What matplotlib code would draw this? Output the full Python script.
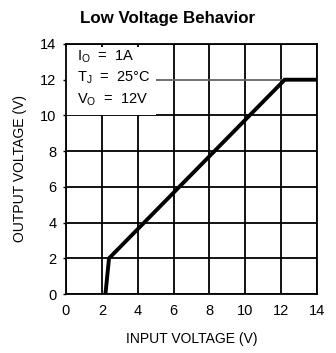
import matplotlib.pyplot as plt
from matplotlib.patches import Rectangle

# Output voltage vs input voltage for the regulator in dropout
vin = [2.2, 2.4, 12.2, 14.0]
vout = [0.0, 2.0, 12.0, 12.0]
ticks = [0, 2, 4, 6, 8, 10, 12, 14]
conditions = ["I$_\\mathregular{O}$  =  1A",
              "T$_\\mathregular{J}$  =  25°C",
              "V$_\\mathregular{O}$  =  12V"]

plt.rcParams['font.family'] = ['Liberation Sans', 'DejaVu Sans']
plt.rcParams['mathtext.fontset'] = 'custom'
plt.rcParams['mathtext.rm'] = 'Liberation Sans'

fig = plt.figure(figsize=(3.36, 3.53), dpi=100)
ax = fig.add_axes([0.1964, 0.1671, 0.7471, 0.7083])

ax.set_xlim(0, 14)
ax.set_ylim(0, 14)
ax.set_xticks(ticks)
ax.set_yticks(ticks)
ax.tick_params(axis='x', length=0, labelsize=10.5, pad=7)
ax.tick_params(axis='y', length=2, width=1, labelsize=10.5, pad=5)

# grid
for t in ticks:
    ax.axvline(t, color='black', lw=1.3, zorder=1)
    if t == 12:
        ax.axhline(t, color='#666666', lw=1.3, zorder=1)
    else:
        ax.axhline(t, color='black', lw=1.3, zorder=1)
for s in ax.spines.values():
    s.set_linewidth(1.3)
    s.set_zorder(3)

# white box behind the test conditions
ax.add_patch(Rectangle((0.0, 10.05), 5.0, 3.8, facecolor='white',
                       edgecolor='none', zorder=2))
for i, txt in enumerate(conditions):
    ax.text(0.6, 13.27 - i * 1.18, txt, fontsize=10.5, va='center',
            ha='left', zorder=3)

ax.plot(vin, vout, color='black', lw=2.8, zorder=4, solid_joinstyle='miter')

ax.set_xlabel("INPUT VOLTAGE (V)", fontsize=10, labelpad=10)
ax.set_ylabel("OUTPUT VOLTAGE (V)", fontsize=10, labelpad=9)
fig.suptitle("Low Voltage Behavior", x=0.5, y=0.968, fontsize=12.2,
             fontweight='bold')

fig.savefig("out.png", dpi=100)
